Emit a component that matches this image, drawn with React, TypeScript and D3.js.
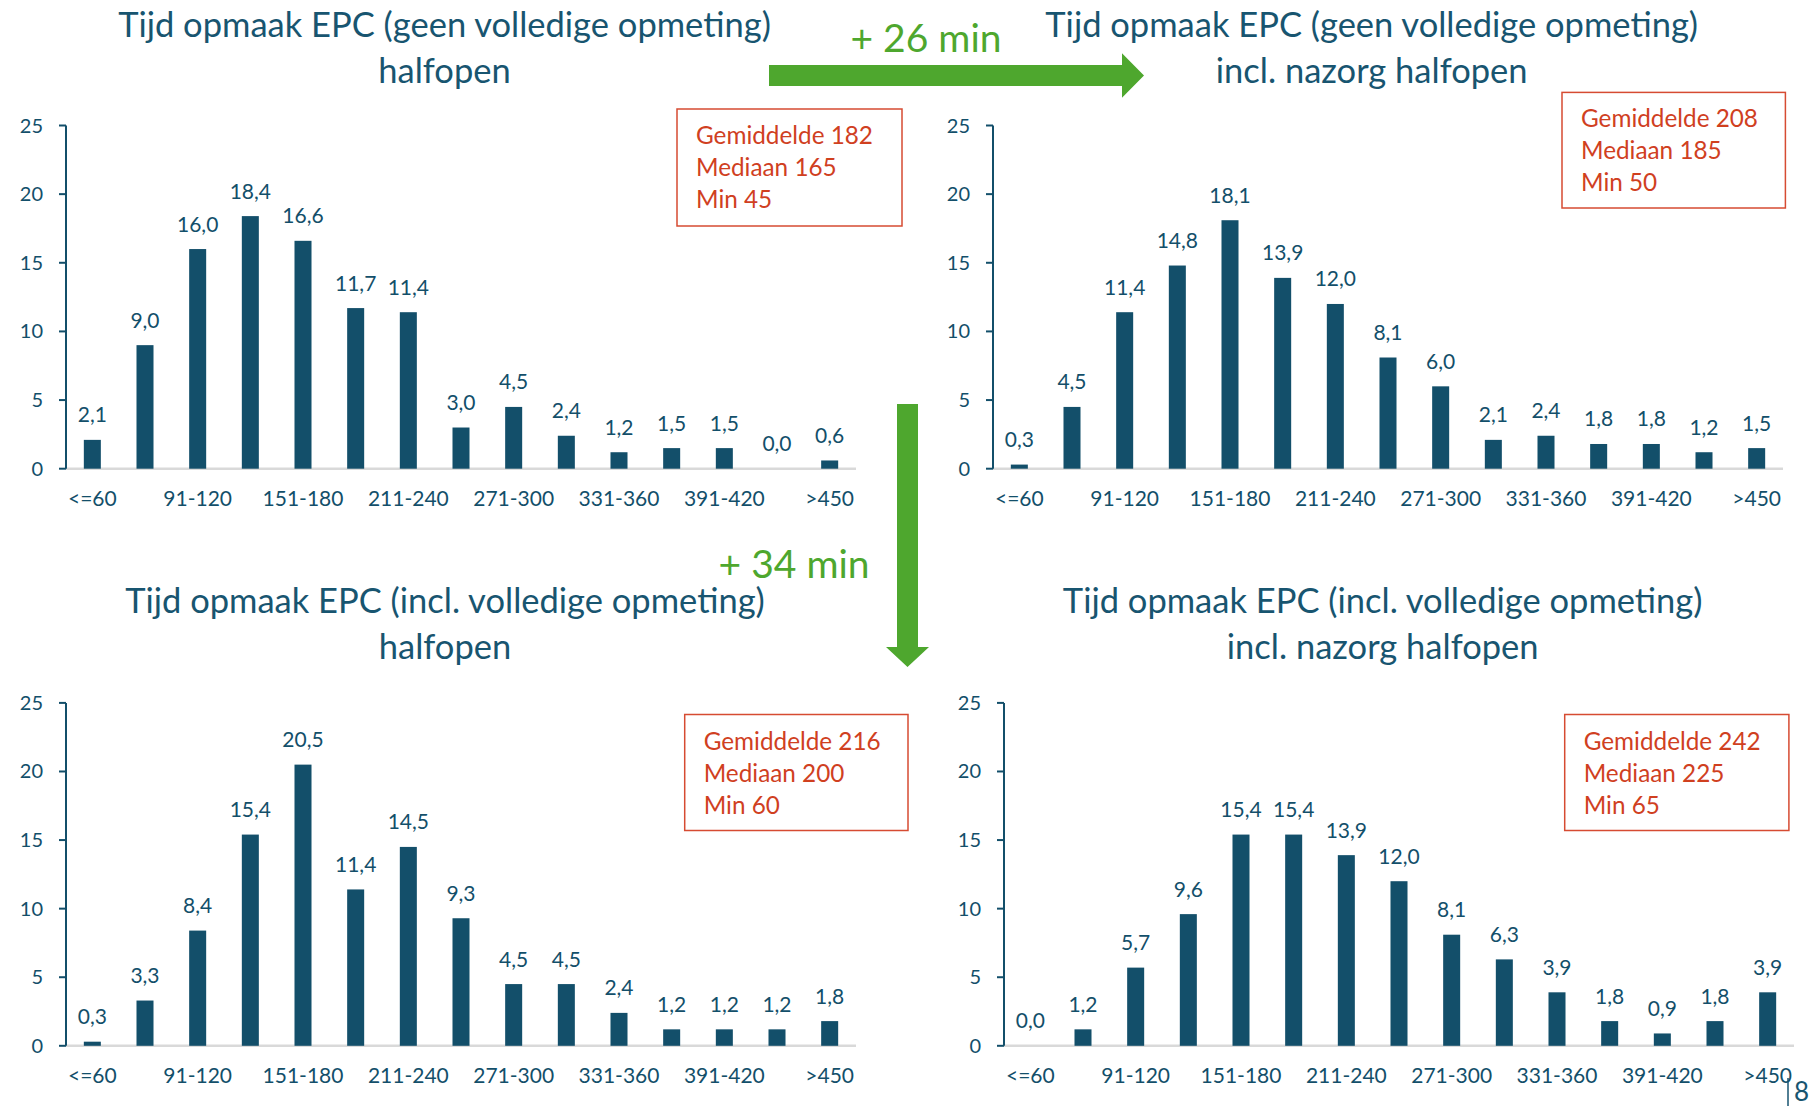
import React from "react";
import * as d3 from "d3";

const categories = ["<=60", "61-90", "91-120", "121-150", "151-180", "181-210", "211-240", "241-270", "271-300", "301-330", "331-360", "361-390", "391-420", "421-450", ">450"];
const shownCategories = ["<=60", "91-120", "151-180", "211-240", "271-300", "331-360", "391-420", ">450"];
const yTicks = [0, 5, 10, 15, 20, 25];

const valuesGeenHalfopen = [2.1, 9.0, 16.0, 18.4, 16.6, 11.7, 11.4, 3.0, 4.5, 2.4, 1.2, 1.5, 1.5, 0.0, 0.6];
const valuesGeenNazorg = [0.3, 4.5, 11.4, 14.8, 18.1, 13.9, 12.0, 8.1, 6.0, 2.1, 2.4, 1.8, 1.8, 1.2, 1.5];
const valuesInclHalfopen = [0.3, 3.3, 8.4, 15.4, 20.5, 11.4, 14.5, 9.3, 4.5, 4.5, 2.4, 1.2, 1.2, 1.2, 1.8];
const valuesInclNazorg = [0.0, 1.2, 5.7, 9.6, 15.4, 15.4, 13.9, 12.0, 8.1, 6.3, 3.9, 1.8, 0.9, 1.8, 3.9];

const titles = [
  ["Tijd opmaak EPC (geen volledige opmeting)", "halfopen"],
  ["Tijd opmaak EPC (geen volledige opmeting)", "incl. nazorg halfopen"],
  ["Tijd opmaak EPC (incl. volledige opmeting)", "halfopen"],
  ["Tijd opmaak EPC (incl. volledige opmeting)", "incl. nazorg halfopen"],
];
const stats = [
  ["Gemiddelde 182", "Mediaan 165", "Min 45"],
  ["Gemiddelde 208", "Mediaan 185", "Min 50"],
  ["Gemiddelde 216", "Mediaan 200", "Min 60"],
  ["Gemiddelde 242", "Mediaan 225", "Min 65"],
];
const seriesList = [valuesGeenHalfopen, valuesGeenNazorg, valuesInclHalfopen, valuesInclNazorg];
const deltaLabels = ["+ 26 min", "+ 34 min"];

// layout (positions only)
const layouts = [
  { axisX: 66, y0: 468.7, yTop: 125.5, titleX: 444.5, titleY: 37, box: { x: 677, y: 109, w: 225, h: 117 } },
  { axisX: 993, y0: 468.7, yTop: 125.5, titleX: 1371.7, titleY: 37, box: { x: 1562, y: 92.4, w: 223.4, h: 115.6 } },
  { axisX: 66, y0: 1045.8, yTop: 702.9, titleX: 445, titleY: 613, box: { x: 684.7, y: 714.5, w: 223.3, h: 116 } },
  { axisX: 1004, y0: 1045.8, yTop: 702.9, titleX: 1382.7, titleY: 613, box: { x: 1564.7, y: 714.5, w: 224.2, h: 116 } },
];

const FONT = "Lato, 'Open Sans', sans-serif";
const TEAL = "#134f6a";
const TITLE = "#185570";
const GREEN = "#4ea72e";
const RED_TEXT = "#d0401f";
const RED_BORDER = "#d64b32";
const fmt = (v: number) => v.toFixed(1).replace(".", ",");

function Panel({ idx }: { idx: number }) {
  const L = layouts[idx];
  const values = seriesList[idx];
  const x = d3.scaleBand<string>().domain(categories).range([L.axisX, L.axisX + 790]).paddingInner(0.677).paddingOuter(0.3385);
  const y = d3.scaleLinear().domain([0, 25]).range([L.y0, L.yTop]);
  return (
    <g>
      <text x={L.titleX} y={L.titleY} textAnchor="middle" fontSize={34.5} fill={TITLE} fontFamily={FONT}>{titles[idx][0]}</text>
      <text x={L.titleX} y={L.titleY + 45.5} textAnchor="middle" fontSize={34.5} fill={TITLE} fontFamily={FONT}>{titles[idx][1]}</text>
      <line x1={L.axisX} x2={L.axisX + 790} y1={y(0)} y2={y(0)} stroke="#d9d9d9" strokeWidth={2.5} />
      {values.map((v, i) => (
        <rect key={i} x={x(categories[i])} y={y(v)} width={x.bandwidth()} height={y(0) - y(v)} fill={TEAL} />
      ))}
      {values.map((v, i) => (
        <text key={"l" + i} x={(x(categories[i]) as number) + x.bandwidth() / 2} y={y(v) - 17.5} textAnchor="middle" fontSize={21} fill={TEAL} fontFamily={FONT}>{fmt(v)}</text>
      ))}
      <line x1={L.axisX} x2={L.axisX} y1={y(25)} y2={y(0)} stroke={TEAL} strokeWidth={2} />
      {yTicks.map((t) => (
        <g key={t}>
          <line x1={L.axisX - 7} x2={L.axisX} y1={y(t)} y2={y(t)} stroke={TEAL} strokeWidth={2} />
          <text x={L.axisX - 23} y={y(t)} dy="0.35em" textAnchor="end" fontSize={20} fill={TEAL} fontFamily={FONT}>{t}</text>
        </g>
      ))}
      {shownCategories.map((c) => (
        <text key={c} x={(x(c) as number) + x.bandwidth() / 2} y={y(0) + 37.5} textAnchor="middle" fontSize={21} fill={TEAL} fontFamily={FONT}>{c}</text>
      ))}
      <rect x={L.box.x} y={L.box.y} width={L.box.w} height={L.box.h} fill="white" stroke={RED_BORDER} strokeWidth={1.5} />
      {stats[idx].map((s, i) => (
        <text key={s} x={L.box.x + 19} y={L.box.y + 35 + i * 32} fontSize={24.3} fill={RED_TEXT} fontFamily={FONT}>{s}</text>
      ))}
    </g>
  );
}

export default function App() {
  const hArrow = d3.path();
  hArrow.moveTo(769, 65); hArrow.lineTo(1122, 65); hArrow.lineTo(1122, 53.3); hArrow.lineTo(1144, 75.5);
  hArrow.lineTo(1122, 97.7); hArrow.lineTo(1122, 86); hArrow.lineTo(769, 86); hArrow.closePath();
  const vArrow = d3.path();
  vArrow.moveTo(897, 404); vArrow.lineTo(918, 404); vArrow.lineTo(918, 647); vArrow.lineTo(929, 647);
  vArrow.lineTo(907.5, 667); vArrow.lineTo(886, 647); vArrow.lineTo(897, 647); vArrow.closePath();
  return (
    <svg width={1812} height={1106} style={{ position: "absolute", left: 0, top: 0, background: "white" }}>
      <rect width={1812} height={1106} fill="white" />
      {layouts.map((_, i) => <Panel key={i} idx={i} />)}
      <path d={hArrow.toString()} fill={GREEN} />
      <path d={vArrow.toString()} fill={GREEN} />
      <text x={926} y={52} textAnchor="middle" fontSize={39} fill={GREEN} fontFamily={FONT}>{deltaLabels[0]}</text>
      <text x={869.6} y={577.7} textAnchor="end" fontSize={39} fill={GREEN} fontFamily={FONT}>{deltaLabels[1]}</text>
      <line x1={1788} x2={1788} y1={1078} y2={1106} stroke={TITLE} strokeWidth={1.5} />
      <text x={1794} y={1101} fontSize={26} fill={TITLE} fontFamily={FONT}>8</text>
    </svg>
  );
}
